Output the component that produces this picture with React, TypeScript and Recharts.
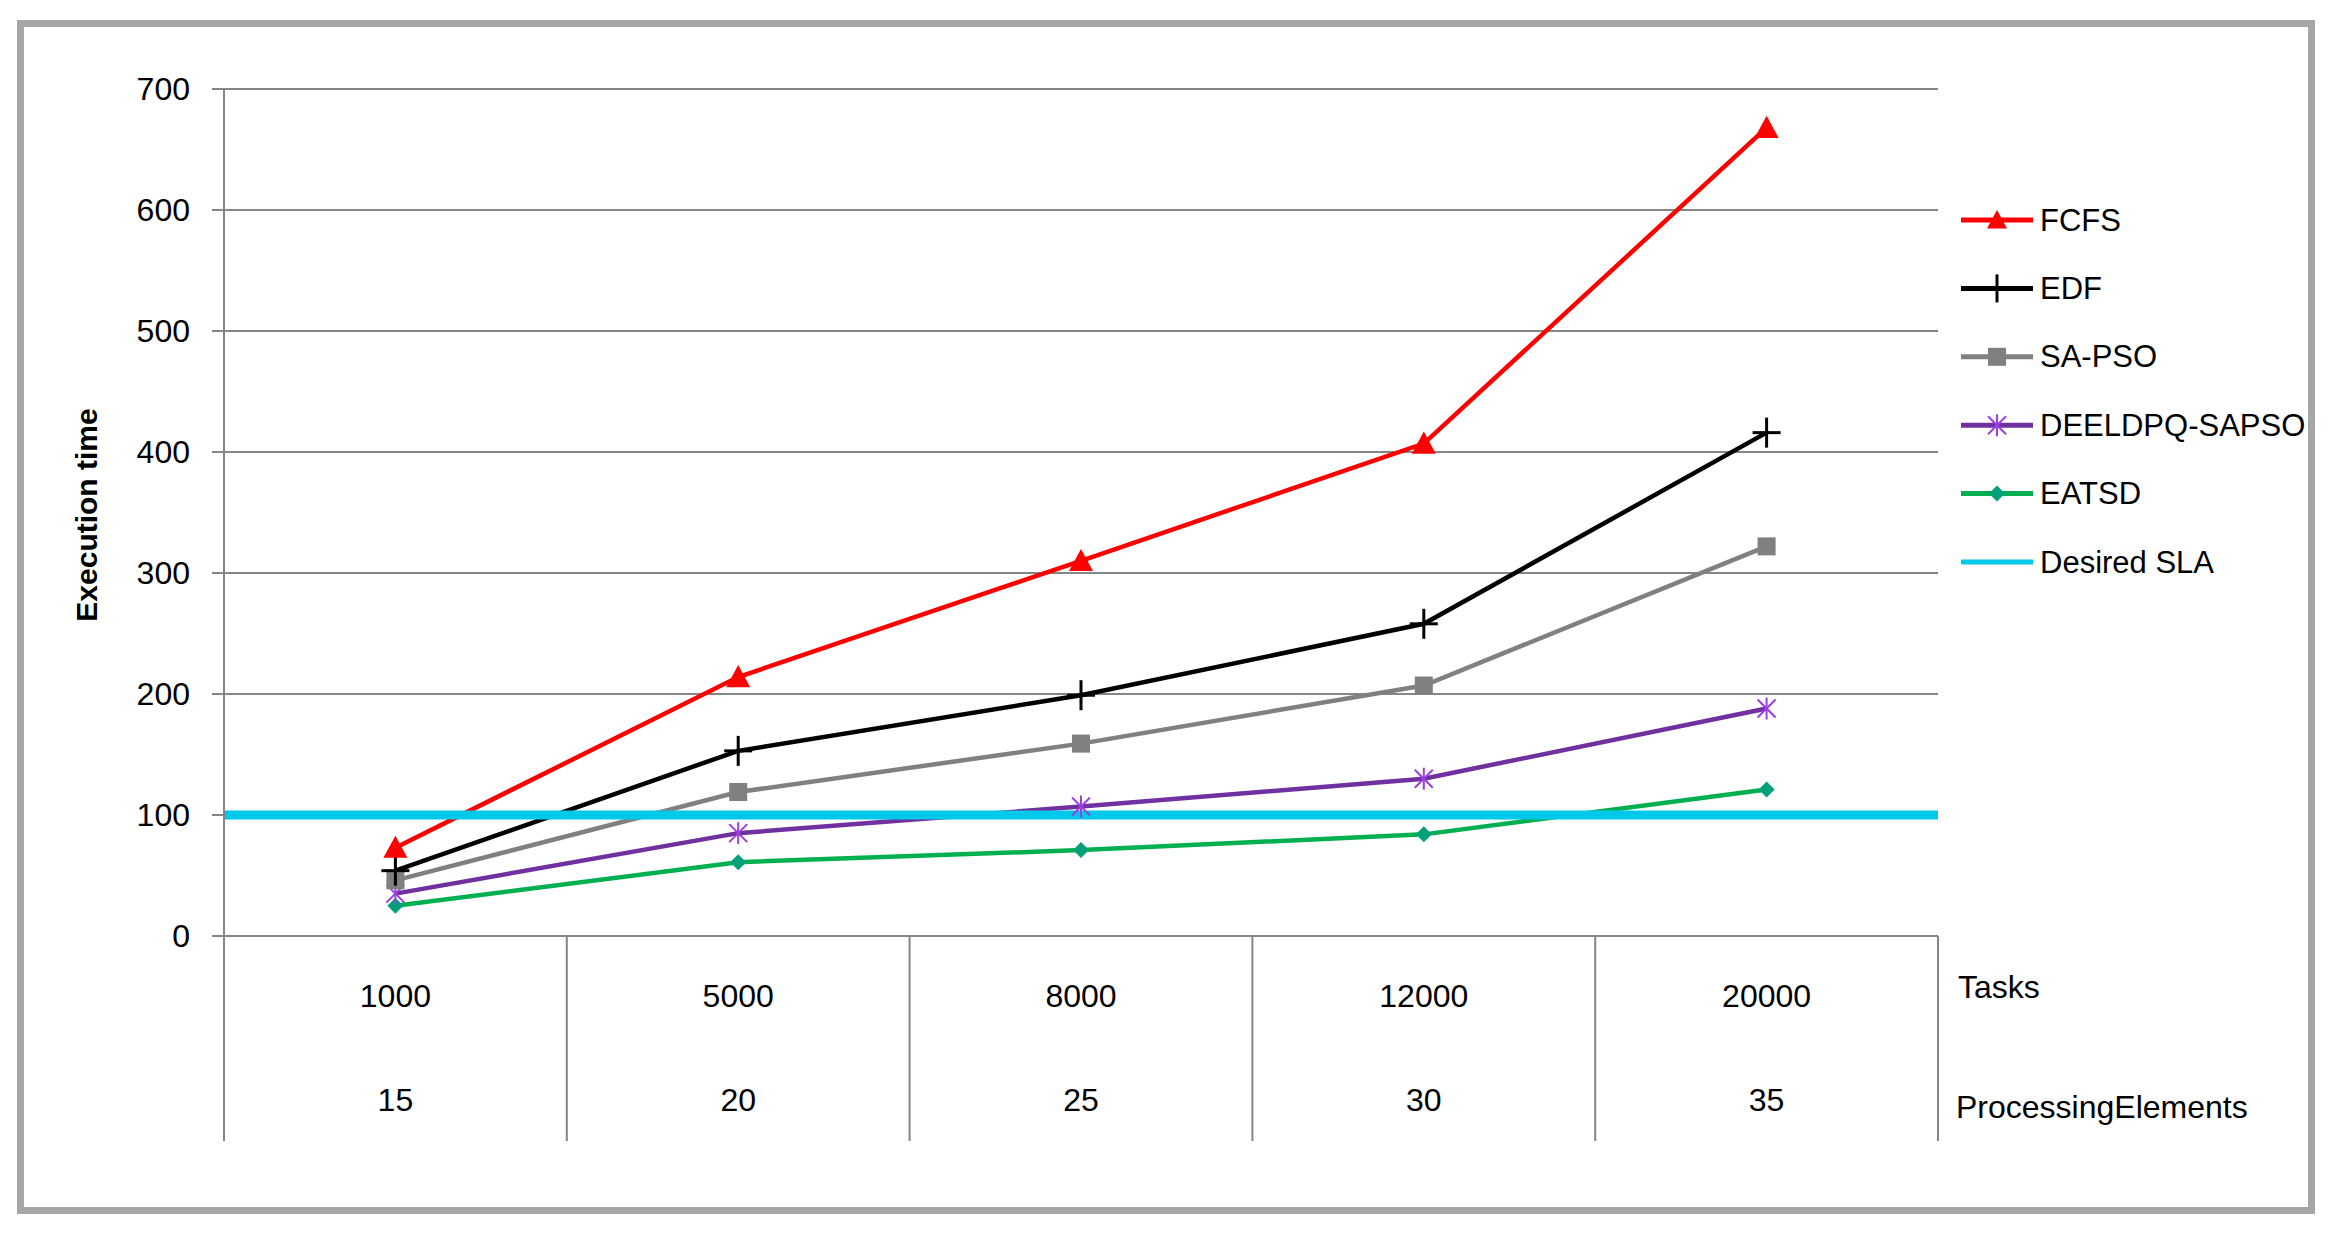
import React from "react";
import {
  LineChart,
  Line,
  XAxis,
  YAxis,
  CartesianGrid,
  ReferenceLine,
} from "recharts";

const tasks = ["1000", "5000", "8000", "12000", "20000"];
const processingElements = ["15", "20", "25", "30", "35"];

const fcfs = [73, 214, 310, 407, 668];
const edf = [54, 153, 199, 258, 416];
const saPso = [46, 119, 159, 207, 322];
const deeldpq = [35, 85, 107, 130, 188];
const eatsd = [25, 61, 71, 84, 121];
const desiredSla = 100;

const yTicks = [0, 100, 200, 300, 400, 500, 600, 700];

const data = tasks.map((t, i) => ({
  tasks: t,
  pe: processingElements[i],
  fcfs: fcfs[i],
  edf: edf[i],
  saPso: saPso[i],
  deeldpq: deeldpq[i],
  eatsd: eatsd[i],
}));

const W = 2330;
const H = 1237;
const MARGIN = { top: 89, right: 392, bottom: 96, left: 0 };
const Y_AXIS_W = 224;
const X_AXIS_H = 205;
const PLOT_W = W - MARGIN.left - MARGIN.right - Y_AXIS_W;
const BAND = PLOT_W / tasks.length;

const GRID = "#868686";
const FONT = "'Liberation Sans', Arial, sans-serif";
const SLA_COLOR = "#00c8ea";
const LINE_W = 4.5;

const COLORS = {
  fcfs: "#ff0000",
  edf: "#000000",
  saPso: "#808080",
  deeldpq: "#7030a0",
  deeldpqMark: "#9b3fe0",
  eatsd: "#00b050",
  eatsdMark: "#00a07a",
};

type DotProps = { cx?: number; cy?: number; index?: number };

const triangle = (cx: number, cy: number, s: number) =>
  `M${cx},${cy - s} L${cx + s},${cy + s * 0.85} L${cx - s},${cy + s * 0.85} Z`;

const TriangleDot = ({ cx = 0, cy = 0, index }: DotProps) => (
  <path key={`tri-${index}`} d={triangle(cx, cy, 12)} fill={COLORS.fcfs} />
);

const PlusDot = ({ cx = 0, cy = 0, index }: DotProps) => (
  <g key={`plus-${index}`} stroke={COLORS.edf} strokeWidth={3}>
    <line x1={cx - 14} y1={cy} x2={cx + 14} y2={cy} />
    <line x1={cx} y1={cy - 15} x2={cx} y2={cy + 15} />
  </g>
);

const SquareDot = ({ cx = 0, cy = 0, index }: DotProps) => (
  <rect key={`sq-${index}`} x={cx - 9} y={cy - 9} width={18} height={18} fill={COLORS.saPso} />
);

const StarDot = ({ cx = 0, cy = 0, index }: DotProps) => (
  <g key={`star-${index}`} stroke={COLORS.deeldpqMark} strokeWidth={2}>
    <line x1={cx - 9} y1={cy - 9} x2={cx + 9} y2={cy + 9} />
    <line x1={cx - 9} y1={cy + 9} x2={cx + 9} y2={cy - 9} />
    <line x1={cx} y1={cy - 11} x2={cx} y2={cy + 11} />
  </g>
);

const DiamondDot = ({ cx = 0, cy = 0, index }: DotProps) => (
  <path
    key={`dia-${index}`}
    d={`M${cx},${cy - 8} L${cx + 8},${cy} L${cx},${cy + 8} L${cx - 8},${cy} Z`}
    fill={COLORS.eatsdMark}
  />
);

const CategoryTick = (props: any) => {
  const { x, y, payload, index } = props;
  const last = index === tasks.length - 1;
  const textStyle = { fontFamily: FONT, fontSize: 32, fill: "#000" };
  return (
    <g>
      <line x1={x - BAND / 2} y1={y} x2={x - BAND / 2} y2={y + 205} stroke={GRID} strokeWidth={2} />
      {last && (
        <line x1={x + BAND / 2} y1={y} x2={x + BAND / 2} y2={y + 205} stroke={GRID} strokeWidth={2} />
      )}
      <text x={x} y={y + 60} textAnchor="middle" dominantBaseline="central" style={textStyle}>
        {payload.value}
      </text>
      <text x={x} y={y + 164} textAnchor="middle" dominantBaseline="central" style={textStyle}>
        {processingElements[index]}
      </text>
      {last && (
        <>
          <text x={x + BAND / 2 + 20} y={y + 51} dominantBaseline="central" style={textStyle}>
            Tasks
          </text>
          <text x={x + BAND / 2 + 18} y={y + 171} dominantBaseline="central" style={textStyle}>
            ProcessingElements
          </text>
        </>
      )}
    </g>
  );
};

const legendItems = [
  { name: "FCFS", color: COLORS.fcfs, width: 5, mark: (x: number, y: number) => <path d={triangle(x, y, 10)} fill={COLORS.fcfs} /> },
  { name: "EDF", color: COLORS.edf, width: 5, mark: (x: number, y: number) => <line x1={x} y1={y - 14} x2={x} y2={y + 14} stroke={COLORS.edf} strokeWidth={3} /> },
  { name: "SA-PSO", color: COLORS.saPso, width: 5, mark: (x: number, y: number) => <rect x={x - 9} y={y - 9} width={18} height={18} fill={COLORS.saPso} /> },
  {
    name: "DEELDPQ-SAPSO",
    color: COLORS.deeldpq,
    width: 5,
    mark: (x: number, y: number) => (
      <g stroke={COLORS.deeldpqMark} strokeWidth={2}>
        <line x1={x - 9} y1={y - 9} x2={x + 9} y2={y + 9} />
        <line x1={x - 9} y1={y + 9} x2={x + 9} y2={y - 9} />
        <line x1={x} y1={y - 11} x2={x} y2={y + 11} />
      </g>
    ),
  },
  { name: "EATSD", color: COLORS.eatsd, width: 5, mark: (x: number, y: number) => <path d={`M${x},${y - 8} L${x + 8},${y} L${x},${y + 8} L${x - 8},${y} Z`} fill={COLORS.eatsdMark} /> },
  { name: "Desired SLA", color: SLA_COLOR, width: 5, mark: () => null },
];

const Legend = () => (
  <svg width={380} height={420} style={{ position: "absolute", left: 1950, top: 180 }}>
    {legendItems.map((it, i) => {
      const y = 40 + i * 68.4;
      return (
        <g key={it.name}>
          <line x1={11} y1={y} x2={83} y2={y} stroke={it.color} strokeWidth={it.width} />
          {it.mark(47, y)}
          <text x={90} y={y} dominantBaseline="central" style={{ fontFamily: FONT, fontSize: 31, fill: "#000" }}>
            {it.name}
          </text>
        </g>
      );
    })}
  </svg>
);

export default function App() {
  return (
    <div style={{ position: "fixed", left: 0, top: 0, width: W, height: H, background: "#fff" }}>
      <div
        style={{
          position: "absolute",
          left: 17,
          top: 20,
          width: 2298,
          height: 1194,
          border: "7px solid #a6a6a6",
          boxSizing: "border-box",
        }}
      />
      <div style={{ position: "absolute", left: 0, top: 0 }}>
        <LineChart width={W} height={H} data={data} margin={MARGIN}>
          <CartesianGrid horizontal vertical={false} stroke={GRID} strokeWidth={2} />
          <XAxis
            dataKey="tasks"
            height={X_AXIS_H}
            padding={{ left: BAND / 2, right: BAND / 2 }}
            axisLine={{ stroke: GRID, strokeWidth: 2 }}
            tickLine={false}
            tickSize={0}
            tickMargin={0}
            interval={0}
            tick={<CategoryTick />}
          />
          <YAxis
            width={Y_AXIS_W}
            domain={[0, 700]}
            ticks={yTicks}
            interval={0}
            axisLine={{ stroke: GRID, strokeWidth: 2 }}
            tickLine={{ stroke: GRID, strokeWidth: 2 }}
            tickSize={12}
            tickMargin={22}
            tick={{ fontFamily: FONT, fontSize: 32, fill: "#000" }}
            label={{
              content: () => (
                <text
                  x={86}
                  y={515}
                  transform="rotate(-90 86 515)"
                  textAnchor="middle"
                  dominantBaseline="central"
                  style={{ fontFamily: FONT, fontSize: 30, fontWeight: "bold", fill: "#000" }}
                >
                  Execution time
                </text>
              ),
            }}
          />
          <Line dataKey="eatsd" stroke={COLORS.eatsd} strokeWidth={LINE_W} dot={DiamondDot} isAnimationActive={false} />
          <Line dataKey="deeldpq" stroke={COLORS.deeldpq} strokeWidth={LINE_W} dot={StarDot} isAnimationActive={false} />
          <Line dataKey="saPso" stroke={COLORS.saPso} strokeWidth={LINE_W} dot={SquareDot} isAnimationActive={false} />
          <Line dataKey="edf" stroke={COLORS.edf} strokeWidth={LINE_W} dot={PlusDot} isAnimationActive={false} />
          <Line dataKey="fcfs" stroke={COLORS.fcfs} strokeWidth={LINE_W} dot={TriangleDot} isAnimationActive={false} />
          <ReferenceLine y={desiredSla} stroke={SLA_COLOR} strokeWidth={9} />
        </LineChart>
      </div>
      <Legend />
    </div>
  );
}
